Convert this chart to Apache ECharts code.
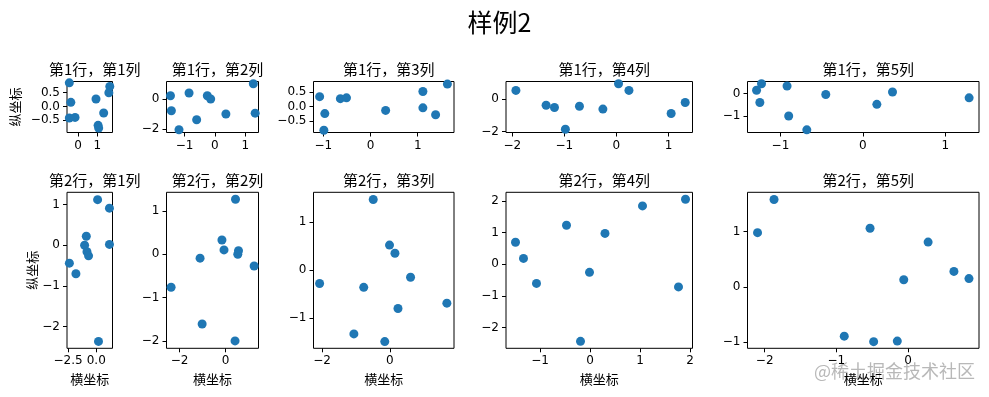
<!DOCTYPE html>
<html>
<head>
<meta charset="utf-8">
<script src="https://cdn.jsdelivr.net/npm/echarts@6/dist/echarts.min.js"></script>
<style>
  html, body { margin: 0; padding: 0; background: #fff; }
  #chart { width: 989px; height: 397px; }
</style>
</head>
<body>
<div id="chart"></div>
<script>
// scatter values (row 1 then row 2, column 1..5)
const r1c1X = [-0.46, -0.38, -0.46, -0.16, 0.93, 1.33, 1.04, 1.07, 1.65, 1.60];
const r1c1Y = [0.86, 0.15, -0.42, -0.40, 0.27, -0.24, -0.69, -0.79, 0.73, 0.50];
const r1c2X = [-1.46, -1.43, -1.18, -0.85, -0.60, -0.25, -0.14, 0.36, 1.26, 1.32];
const r1c2Y = [0.20, -0.80, -2.07, 0.38, -1.40, 0.20, -0.02, -1.02, 1.00, -0.96];
const r1c3X = [-1.08, -0.97, -0.99, -0.64, -0.51, 0.32, 1.11, 1.11, 1.38, 1.63];
const r1c3Y = [0.34, -0.25, -0.83, 0.27, 0.30, -0.14, 0.52, -0.05, -0.29, 0.78];
const r1c4X = [-1.93, -1.35, -1.19, -0.98, -0.71, -0.26, 0.04, 0.24, 1.05, 1.32];
const r1c4Y = [0.55, -0.37, -0.51, -1.86, -0.43, -0.61, 0.96, 0.55, -0.88, -0.20];
const r1c5X = [-1.29, -1.23, -1.25, -0.92, -0.90, -0.68, -0.45, 0.17, 0.36, 1.29];
const r1c5Y = [0.15, 0.44, -0.40, 0.34, -1.00, -1.62, -0.04, -0.48, 0.07, -0.19];
const r2c1X = [0.12, 1.17, 1.17, -0.88, -1.03, -0.82, -0.68, -2.38, -1.80, 0.20];
const r2c1Y = [1.12, 0.91, 0.02, 0.22, 0.00, -0.16, -0.26, -0.44, -0.70, -2.36];
const r2c2X = [0.43, -0.16, -0.07, 0.56, 0.53, 1.24, -1.11, -2.37, -1.02, 0.41];
const r2c2Y = [1.27, 0.33, 0.10, 0.08, 0.00, -0.27, -0.09, -0.76, -1.61, -2.00];
const r2c3X = [-0.49, -0.01, 0.15, 0.61, -2.07, -0.77, 0.24, 1.68, -1.06, -0.15];
const r2c3Y = [1.47, 0.52, 0.35, -0.15, -0.28, -0.36, -0.80, -0.69, -1.33, -1.49];
const r2c4X = [-1.49, -1.33, -1.07, -0.47, -0.19, -0.01, 0.30, 1.05, 1.77, 1.91];
const r2c4Y = [0.69, 0.18, -0.61, 1.23, -2.44, -0.26, 0.97, 1.84, -0.72, 2.05];
const r2c5X = [-2.10, -1.87, -0.53, 0.28, -0.06, 0.64, 0.85, -0.89, -0.48, -0.15];
const r2c5Y = [0.98, 1.58, 1.06, 0.81, 0.13, 0.28, 0.15, -0.89, -0.99, -0.98];

const xsAll = [r1c1X, r1c2X, r1c3X, r1c4X, r1c5X, r2c1X, r2c2X, r2c3X, r2c4X, r2c5X];
const ysAll = [r1c1Y, r1c2Y, r1c3Y, r1c4Y, r1c5Y, r2c1Y, r2c2Y, r2c3Y, r2c4Y, r2c5Y];

// axis limits and tick values per subplot
const xLimits = [[-0.58, 1.79], [-1.59, 1.43], [-1.21, 1.77], [-2.12, 1.46], [-1.40, 1.41],
                 [-2.59, 1.44], [-2.57, 1.43], [-2.25, 1.89], [-1.68, 2.05], [-2.24, 0.99]];
const yLimits = [[-0.95, 0.91], [-2.25, 1.15], [-0.91, 0.87], [-2.06, 1.10], [-1.74, 0.54],
                 [-2.53, 1.30], [-2.17, 1.43], [-1.63, 1.62], [-2.66, 2.27], [-1.11, 1.71]];
const xTicks = [[0, 1], [-1, 0, 1], [-1, 0, 1], [-2, -1, 0, 1], [-1, 0, 1],
                [-2.5, 0], [-2, 0], [-2, 0], [-1, 0, 1, 2], [-2, -1, 0]];
const yTicks = [[-0.5, 0, 0.5], [-2, 0], [-0.5, 0, 0.5], [-2, 0], [-1, 0],
                [-2, -1, 0, 1], [-2, -1, 0, 1], [-1, 0, 1], [-2, -1, 0, 1, 2], [-1, 0, 1]];

const mainTitle = '样例2';
const xName = '横坐标';
const yName = '纵坐标';

// layout (gridspec 1:2:3:4:5 wide, 1:3 tall)
const colLeft = [67, 166.5, 313.5, 506, 747.5];
const colWidth = [45.5, 92, 140.5, 186.5, 231.5];
const rowTop = [81.5, 192.3];
const rowHeight = [51, 156];

const font = '"DejaVu Sans", "Noto Sans CJK SC", sans-serif';
const cjk = '"Noto Sans CJK SC", sans-serif';

const fmt = (ticks) => {
  const dec = ticks.some(t => !Number.isInteger(t)) ? 1 : 0;
  return (v) => v.toFixed(dec).replace('-', '\u2212');
};

const grids = [], xAxes = [], yAxes = [], series = [];
const titles = [{
  text: mainTitle, left: 494.5, top: 5, textAlign: 'center',
  textStyle: { fontSize: 25, fontWeight: 'normal', color: '#000', fontFamily: cjk }
}];

for (let i = 0; i < 10; i++) {
  const r = Math.floor(i / 5), c = i % 5;
  grids.push({
    left: colLeft[c], top: rowTop[r], width: colWidth[c], height: rowHeight[r],
    show: true, borderColor: '#000', borderWidth: 1, backgroundColor: 'transparent'
  });
  titles.push({
    text: '第' + (r + 1) + '行，第' + (c + 1) + '列',
    left: colLeft[c] + colWidth[c] / 2, top: rowTop[r] - 25, textAlign: 'center',
    textStyle: { fontSize: 15, fontWeight: 'normal', color: '#000', fontFamily: cjk }
  });
  xAxes.push({
    type: 'value', gridIndex: i, min: xLimits[i][0], max: xLimits[i][1],
    axisLine: { show: false, onZero: false },
    axisTick: { show: true, length: 4, inside: false, customValues: xTicks[i], lineStyle: { color: '#000' } },
    axisLabel: { customValues: xTicks[i], formatter: fmt(xTicks[i]), color: '#000', fontSize: 12, margin: 7, fontFamily: font },
    splitLine: { show: false },
    name: r === 1 ? xName : '', nameLocation: 'middle', nameGap: 24,
    nameTextStyle: { fontSize: 13, color: '#000', fontFamily: cjk }
  });
  yAxes.push({
    type: 'value', gridIndex: i, min: yLimits[i][0], max: yLimits[i][1],
    axisLine: { show: false, onZero: false },
    axisTick: { show: true, length: 4, inside: false, customValues: yTicks[i], lineStyle: { color: '#000' } },
    axisLabel: { customValues: yTicks[i], formatter: fmt(yTicks[i]), color: '#000', fontSize: 12, margin: 7, fontFamily: font },
    splitLine: { show: false },
    name: c === 0 ? yName : '', nameLocation: 'middle', nameGap: r === 0 ? 45 : 28,
    nameTextStyle: { fontSize: 13, color: '#000', fontFamily: cjk }
  });
  series.push({
    type: 'scatter', xAxisIndex: i, yAxisIndex: i, clip: true,
    symbolSize: 9, itemStyle: { color: '#1f77b4', opacity: 1 },
    data: xsAll[i].map((x, k) => [x, ysAll[i][k]])
  });
}

const chart = echarts.init(document.getElementById('chart'));
chart.setOption({
  animation: false,
  backgroundColor: '#fff',
  title: titles,
  grid: grids,
  xAxis: xAxes,
  yAxis: yAxes,
  series: series,
  graphic: [{
    type: 'text', right: 14, top: 362,
    style: { text: '@稀土掘金技术社区', fontSize: 18, fill: 'rgba(160,160,160,0.75)', fontFamily: cjk }
  }]
});
</script>
</body>
</html>
